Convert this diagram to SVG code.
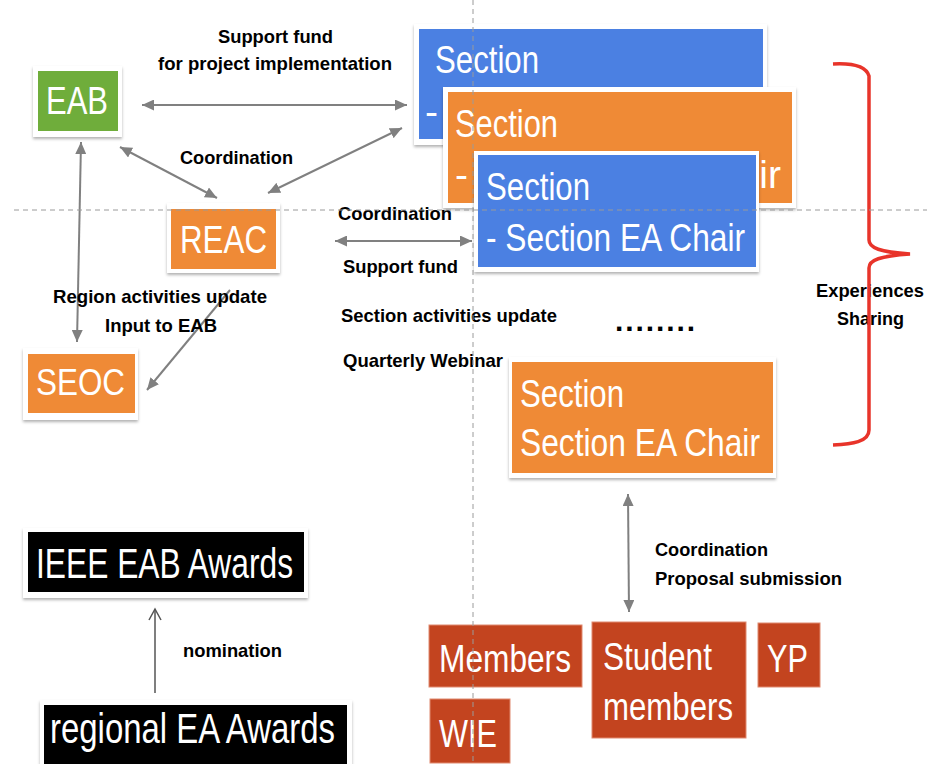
<svg xmlns="http://www.w3.org/2000/svg" width="927" height="764" viewBox="0 0 927 764">
<defs>
<style>
.box{fill:#ffffff;filter:url(#sh)}
.green{fill:#6fad3b}
.orange{fill:#ef8a36}
.blue{fill:#4b80e2}
.black{fill:#000000}
.rust{fill:#c3441f;stroke:#e08a70;stroke-width:1}
.big{font-family:"Liberation Sans",Arial,sans-serif;fill:#ffffff;font-size:39px}
.lbl{font-family:"Liberation Sans",Arial,sans-serif;font-weight:bold;fill:#000000;font-size:19px}
.con{stroke:#808080;stroke-width:2;fill:none}
.guide{stroke:#9a9a9a;stroke-width:1;stroke-dasharray:5 4;fill:none}
</style>
<filter id="sh" x="-10%" y="-10%" width="120%" height="130%">
<feDropShadow dx="0" dy="2" stdDeviation="1.5" flood-color="#000" flood-opacity="0.3"/>
</filter>
<marker id="ah" markerUnits="userSpaceOnUse" markerWidth="13" markerHeight="11" refX="12" refY="5.5" orient="auto-start-reverse">
<path d="M0,0 L12,5.5 L0,11 z" fill="#808080"/>
</marker>
<marker id="oh" markerUnits="userSpaceOnUse" markerWidth="14" markerHeight="14" refX="12" refY="7" orient="auto">
<path d="M1,1 L12,7 L1,13" fill="none" stroke="#555555" stroke-width="1.5"/>
</marker>
</defs>
<rect width="927" height="764" fill="#ffffff"/>

<g id="connectors">
<line class="con" x1="142" y1="105" x2="407" y2="105" marker-start="url(#ah)" marker-end="url(#ah)"/>
<line class="con" x1="120" y1="147" x2="217" y2="198" marker-start="url(#ah)" marker-end="url(#ah)"/>
<line class="con" x1="268" y1="193" x2="402" y2="128" marker-start="url(#ah)" marker-end="url(#ah)"/>
<line class="con" x1="81" y1="142" x2="77" y2="342" marker-start="url(#ah)" marker-end="url(#ah)"/>
<line class="con" x1="230" y1="290" x2="147" y2="390" marker-end="url(#ah)"/>
<line class="con" x1="335" y1="241" x2="472" y2="241" marker-start="url(#ah)" marker-end="url(#ah)"/>
<line class="con" x1="628" y1="494" x2="629" y2="612" marker-start="url(#ah)" marker-end="url(#ah)"/>
<line x1="155" y1="693" x2="155" y2="609" stroke="#555555" stroke-width="1.5" marker-end="url(#oh)"/>
</g>

<g id="labels">
<text class="lbl" x="218" y="43" textLength="115" lengthAdjust="spacingAndGlyphs">Support fund</text>
<text class="lbl" x="158" y="70" textLength="234" lengthAdjust="spacingAndGlyphs">for project implementation</text>
<text class="lbl" x="180" y="164" textLength="113" lengthAdjust="spacingAndGlyphs">Coordination</text>
<text class="lbl" x="338" y="220" textLength="114" lengthAdjust="spacingAndGlyphs">Coordination</text>
<text class="lbl" x="343" y="273" textLength="115" lengthAdjust="spacingAndGlyphs">Support fund</text>
<text class="lbl" x="341" y="322" textLength="216" lengthAdjust="spacingAndGlyphs">Section activities update</text>
<text class="lbl" x="343" y="367" textLength="160" lengthAdjust="spacingAndGlyphs">Quarterly Webinar</text>
<text class="lbl" x="53" y="303" textLength="214" lengthAdjust="spacingAndGlyphs">Region activities update</text>
<text class="lbl" x="105" y="332" textLength="112" lengthAdjust="spacingAndGlyphs">Input to EAB</text>
<text class="lbl" x="816" y="297" textLength="108" lengthAdjust="spacingAndGlyphs">Experiences</text>
<text class="lbl" x="837" y="325" textLength="67" lengthAdjust="spacingAndGlyphs">Sharing</text>
<text class="lbl" x="655" y="556" textLength="113" lengthAdjust="spacingAndGlyphs">Coordination</text>
<text class="lbl" x="655" y="585" textLength="187" lengthAdjust="spacingAndGlyphs">Proposal submission</text>
<text class="lbl" x="183" y="657" textLength="99" lengthAdjust="spacingAndGlyphs">nomination</text>
<text class="lbl" x="615" y="331" style="font-size:30px" textLength="80" lengthAdjust="spacing">........</text>
</g>

<g id="eab">
<rect class="box" x="33" y="66" width="89" height="71"/>
<rect class="green" x="38" y="71" width="80" height="60"/>
<text class="big" x="46" y="114" style="font-size:38px" textLength="62" lengthAdjust="spacingAndGlyphs">EAB</text>
</g>

<g id="reac">
<rect class="box" x="167" y="203" width="113" height="70"/>
<rect class="orange" x="171" y="209" width="105" height="60"/>
<text class="big" x="180" y="253" textLength="87" lengthAdjust="spacingAndGlyphs">REAC</text>
</g>

<g id="seoc">
<rect class="box" x="23" y="348" width="115" height="72"/>
<rect class="orange" x="28" y="354" width="107" height="59"/>
<text class="big" x="36" y="395" style="font-size:37px" textLength="89" lengthAdjust="spacingAndGlyphs">SEOC</text>
</g>

<g id="section1">
<rect class="box" x="414" y="24" width="353" height="121"/>
<rect class="blue" x="419" y="29" width="344" height="110"/>
<text class="big" x="435" y="73" textLength="104" lengthAdjust="spacingAndGlyphs">Section</text>
<text class="big" x="425" y="125">-</text>
</g>

<g id="section2">
<rect class="box" x="443" y="87" width="353" height="121"/>
<rect class="orange" x="448" y="92" width="344" height="111"/>
<text class="big" x="455" y="137" textLength="103" lengthAdjust="spacingAndGlyphs">Section</text>
<text class="big" x="455" y="188">-</text>
<text class="big" x="781" y="188" text-anchor="end">ir</text>
</g>

<g id="section3">
<rect class="box" x="474" y="151" width="285" height="121"/>
<rect class="blue" x="478" y="155" width="278" height="112"/>
<text class="big" x="486" y="200" textLength="104" lengthAdjust="spacingAndGlyphs">Section</text>
<text class="big" x="486" y="251" textLength="259" lengthAdjust="spacingAndGlyphs">- Section EA Chair</text>
</g>

<g id="section4">
<rect class="box" x="509" y="357" width="267" height="121"/>
<rect class="orange" x="512" y="362" width="261" height="111"/>
<text class="big" x="520" y="407" textLength="104" lengthAdjust="spacingAndGlyphs">Section</text>
<text class="big" x="520" y="456" textLength="240" lengthAdjust="spacingAndGlyphs">Section EA Chair</text>
</g>

<g id="brace">
<path d="M833,64 C852,63 866,66 869,76 L869,240 C869,248 880,252 910,254 C880,256 869,260 869,268 L869,430 C869,442 852,444 833,445" fill="none" stroke="#e8342a" stroke-width="3.5"/>
</g>

<g id="ieee-eab-awards">
<rect class="box" x="23" y="528" width="285" height="70"/>
<rect class="black" x="28" y="532" width="276" height="60"/>
<text class="big" x="36" y="578" style="font-size:42px" textLength="257" lengthAdjust="spacingAndGlyphs">IEEE EAB Awards</text>
</g>

<g id="regional-ea-awards">
<rect class="box" x="40" y="700" width="312" height="70"/>
<rect class="black" x="44" y="705" width="303" height="65"/>
<text class="big" x="50" y="743" style="font-size:42px" textLength="285" lengthAdjust="spacingAndGlyphs">regional EA Awards</text>
</g>

<g id="members">
<rect class="rust" x="429" y="625" width="153" height="62"/>
<text class="big" x="439" y="672" textLength="132" lengthAdjust="spacingAndGlyphs">Members</text>
</g>

<g id="student-members">
<rect class="rust" x="592" y="622" width="154" height="116"/>
<text class="big" x="603" y="670" textLength="109" lengthAdjust="spacingAndGlyphs">Student</text>
<text class="big" x="603" y="720" textLength="130" lengthAdjust="spacingAndGlyphs">members</text>
</g>

<g id="yp">
<rect class="rust" x="758" y="623" width="62" height="64"/>
<text class="big" x="767" y="672" textLength="41" lengthAdjust="spacingAndGlyphs">YP</text>
</g>

<g id="wie">
<rect class="rust" x="430" y="699" width="80" height="64"/>
<text class="big" x="439" y="747" textLength="58" lengthAdjust="spacingAndGlyphs">WIE</text>
</g>

<g id="guides">
<line class="guide" x1="14" y1="210" x2="927" y2="210"/>
<line class="guide" x1="473" y1="0" x2="473" y2="764"/>
</g>
</svg>
